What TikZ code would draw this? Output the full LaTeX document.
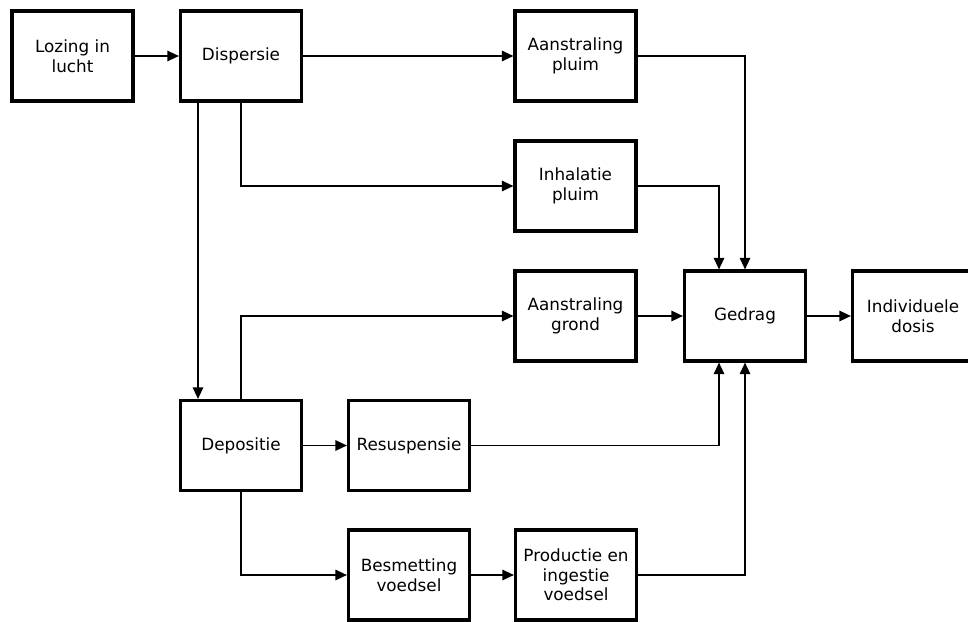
\documentclass[tikz,border=0pt]{standalone}
\usepackage{fontspec}
\setmainfont{DejaVu Sans}
\usetikzlibrary{arrows.meta}
\begin{document}
\begin{tikzpicture}[x=1pt,y=-1pt,
  box/.style={draw=black,line width=3.2pt,fill=white,minimum width=121pt,minimum height=90pt,
    inner sep=2pt,align=center,font=\fontsize{16.8}{19.5}\selectfont},
  arr/.style={line width=1.4pt,-{Triangle[length=11.5pt,width=10.5pt]}}]
\path[use as bounding box] (0,0) rectangle (968,621);
\clip (0,0) rectangle (968,621);
\node[box] (lozing) at (72.5,56) {Lozing in\\lucht};
\node[box] (disp) at (241,56) {Dispersie};
\node[box] (apluim) at (575.5,56) {Aanstraling\\pluim};
\node[box] (ipluim) at (575.5,186) {Inhalatie\\pluim};
\node[box] (agrond) at (575.5,316) {Aanstraling\\grond};
\node[box] (gedrag) at (745,316) {Gedrag};
\node[box] (dosis) at (913,316) {Individuele\\dosis};
\node[box] (depo) at (241,445.5) {Depositie};
\node[box] (resus) at (409,445.5) {Resuspensie};
\node[box] (besm) at (409,575) {Besmetting\\voedsel};
\node[box] (prod) at (576,575) {Productie en\\ingestie\\voedsel};
\draw[arr] (lozing.east) -- (disp.west);
\draw[arr] (disp.east) -- (apluim.west);
\draw[arr] ([xshift=-43pt]disp.south) -- ([xshift=-43pt]depo.north);
\draw[arr] (disp.south) |- (ipluim.west);
\draw[arr] (apluim.east) -| (gedrag.north);
\draw[arr] (ipluim.east) -| ([xshift=-26pt]gedrag.north);
\draw[arr] (depo.north) |- (agrond.west);
\draw[arr] (agrond.east) -- (gedrag.west);
\draw[arr] (gedrag.east) -- (dosis.west);
\draw[arr] (depo.east) -- (resus.west);
\draw[arr] (resus.east) -| ([xshift=-26pt]gedrag.south);
\draw[arr] (depo.south) |- (besm.west);
\draw[arr] (besm.east) -- (prod.west);
\draw[arr] (prod.east) -| (gedrag.south);
\end{tikzpicture}
\end{document}
